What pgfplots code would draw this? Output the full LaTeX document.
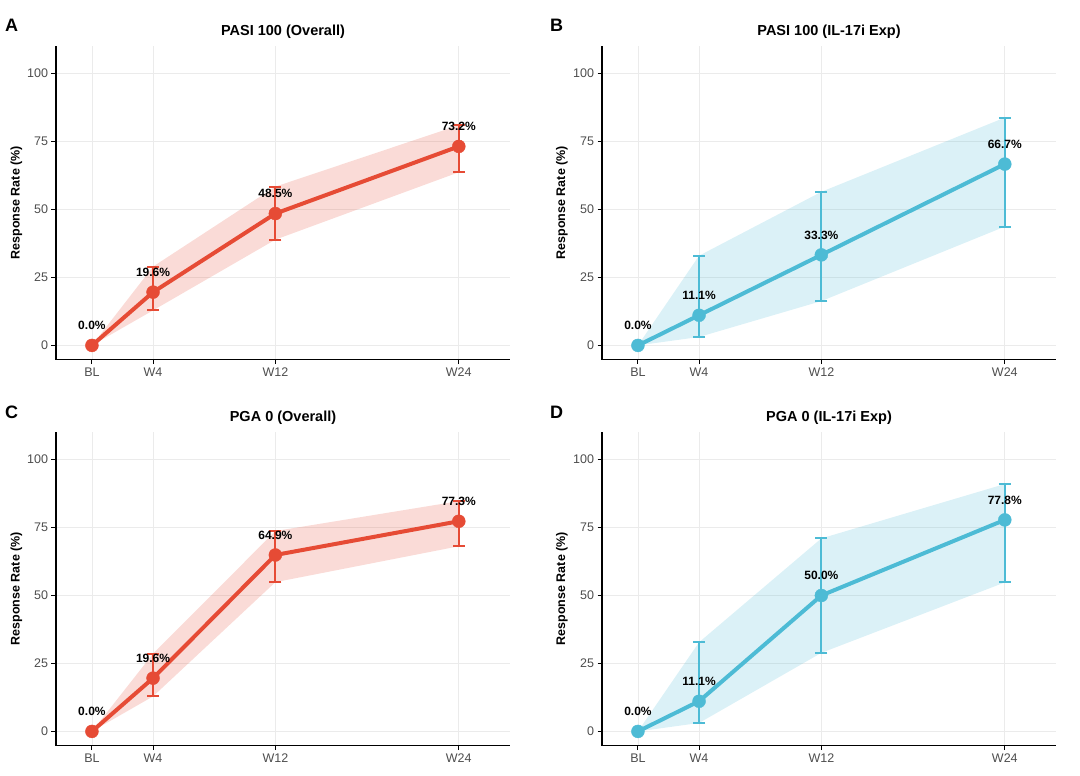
\documentclass[border=0pt]{standalone}
\usepackage{pgfplots}
\pgfplotsset{compat=1.18}
\usepackage{pgfplotstable}
\usepgfplotslibrary{fillbetween}
\usepackage{fontspec}
\setmainfont{Liberation Sans}
\definecolor{npgred}{HTML}{E64B35}
\definecolor{npgblue}{HTML}{4DBBD5}
\definecolor{tickgray}{HTML}{4D4D4D}
\definecolor{gridgray}{HTML}{EBEBEB}
\pagecolor{white}

\pgfplotstableread{
x y up lo ep em
0 0 0 0 0 0
4 19.6 29.0 12.9 9.4 6.7
12 48.5 58.4 38.9 9.9 9.6
24 73.2 81.0 63.7 7.8 9.5
}\dataA
\pgfplotstableread{
x y up lo ep em
0 0 0 0 0 0
4 11.1 33.0 3.1 21.9 8.0
12 33.3 56.5 16.3 23.2 17.0
24 66.7 83.8 43.7 17.1 23.0
}\dataB
\pgfplotstableread{
x y up lo ep em
0 0 0 0 0 0
4 19.6 28.6 12.9 9.0 6.7
12 64.9 73.7 54.9 8.8 10.0
24 77.3 84.7 68.1 7.4 9.2
}\dataC
\pgfplotstableread{
x y up lo ep em
0 0 0 0 0 0
4 11.1 32.8 3.1 21.7 8.0
12 50.0 71.0 28.9 21.0 21.1
24 77.8 91.0 54.8 13.2 23.0
}\dataD

\pgfplotsset{
  base/.style={
    scale only axis, width=454pt, height=314pt, anchor=south west,
    xmin=-2.35, xmax=27.35, ymin=-5.25, ymax=110.25,
    axis x line*=bottom, axis y line*=left,
    axis line style={line width=1.1pt, black},
    xtick={0,4,12,24}, xticklabels={BL,W4,W12,W24},
    ytick={0,25,50,75,100},
    grid=major, major grid style={gridgray, line width=0.8pt},
    tick align=outside, major tick length=4.5pt,
    tick style={line width=1pt, black},
    ticklabel style={font=\fontsize{12.5}{15}\selectfont, text=tickgray},
    /pgf/number format/assume math mode=true,
    clip=false,
    title style={font=\bfseries\fontsize{14.5}{17}\selectfont, at={(0.5,1)}, anchor=center, yshift=7.7pt},
  }
}

\newcommand\panel[4]{%
\begin{axis}[base, at={#1}, title={#4}]
\addplot[name path=up, draw=none, forget plot] table[x=x,y=up]{#2};
\addplot[name path=lo, draw=none, forget plot] table[x=x,y=lo]{#2};
\addplot[fill=#3, fill opacity=0.2, draw=none] fill between[of=up and lo];
\addplot[#3, line width=4pt, no marks] table[x=x,y=y]{#2};
\addplot[draw=none, no marks, error bars/.cd, y dir=both, y explicit,
  error bar style={draw=#3, solid, line width=2pt},
  error mark options={draw=#3, rotate=90, mark size=6pt, line width=2pt}]
  table[x=x,y=y,y error plus=ep,y error minus=em]{#2};
\addplot[only marks, mark=*, mark size=6.5pt, mark options={fill=#3, draw=#3},
  point meta=y,
  nodes near coords={\pgfmathprintnumber[fixed,fixed zerofill,precision=1]{\pgfplotspointmeta}\%},
  every node near coord/.style={anchor=center, yshift=20pt, font=\bfseries\fontsize{12}{14}\selectfont, text=black}]
  table[x=x,y=y]{#2};
\end{axis}}

\begin{document}%
\begin{tikzpicture}
\panel{(56pt,416.3pt)}{\dataA}{npgred}{PASI 100 (Overall)}
\panel{(602pt,416.3pt)}{\dataB}{npgblue}{PASI 100 (IL-17i Exp)}
\panel{(56pt,30.3pt)}{\dataC}{npgred}{PGA 0 (Overall)}
\panel{(602pt,30.3pt)}{\dataD}{npgblue}{PGA 0 (IL-17i Exp)}
\begin{scope}[every node/.style={inner sep=0pt, font=\bfseries\fontsize{18}{21}\selectfont}]
\node[anchor=west] at (5pt,751pt) {A};
\node[anchor=west] at (550pt,751pt) {B};
\node[anchor=west] at (5pt,364pt) {C};
\node[anchor=west] at (550pt,364pt) {D};
\end{scope}
\begin{scope}[every node/.style={inner sep=0pt, rotate=90, font=\bfseries\fontsize{12.5}{15}\selectfont}]
\node at (16.3pt,573.3pt) {Response Rate (\%)};
\node at (562pt,573.3pt) {Response Rate (\%)};
\node at (16.3pt,187.3pt) {Response Rate (\%)};
\node at (562pt,187.3pt) {Response Rate (\%)};
\end{scope}
\pgfresetboundingbox
\path[use as bounding box] (0,0) rectangle (1080pt,776pt);
\end{tikzpicture}%
\end{document}
